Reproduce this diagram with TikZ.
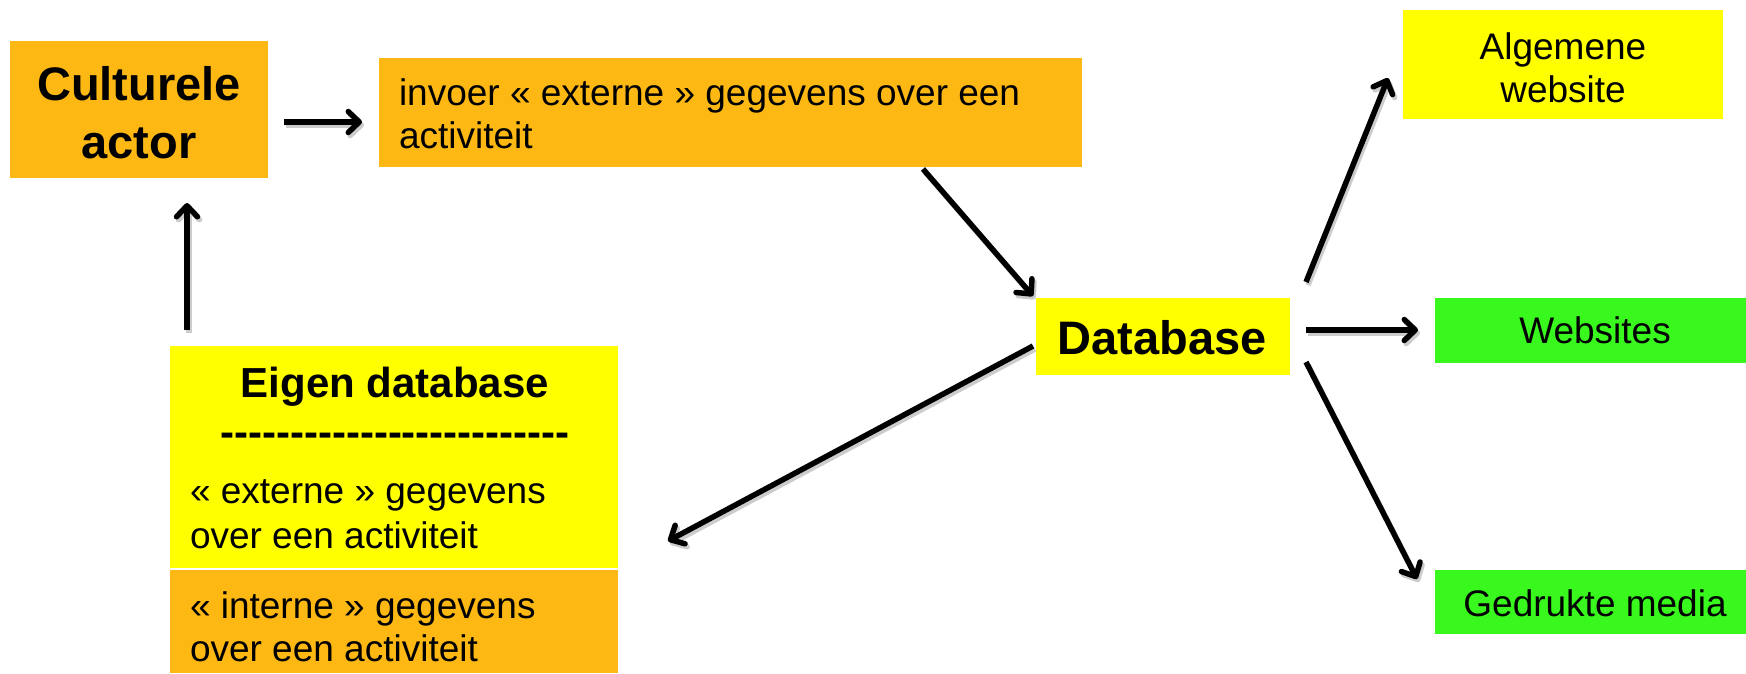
\documentclass[tikz,border=0pt]{standalone}
\usepackage{fontspec}
\setmainfont{Liberation Sans}
\usetikzlibrary{arrows.meta}
\definecolor{corange}{RGB}{253,184,19}
\definecolor{cyellow}{RGB}{255,255,0}
\definecolor{cgreen}{RGB}{57,248,29}
\newcommand\dsh{-\kern0pt}
\tikzset{
  boxshape/.style={rectangle, inner sep=0pt, outer sep=0pt, draw=none},
  txt/.style={inner sep=0pt, outer sep=0pt, font=\fontsize{37}{44}\selectfont},
  bigtxt/.style={inner sep=0pt, outer sep=0pt, font=\fontsize{47}{58}\selectfont\bfseries, align=center},
  arr/.style={line width=5.5pt, -{Straight Barb[length=11pt,width=21pt,round]},
    preaction={draw=black!20, line width=5.5pt, -{Straight Barb[length=11pt,width=21pt,round]}, transform canvas={shift={(2pt,-3pt)}}}}
}
\begin{document}
\begin{tikzpicture}[x=1pt,y=-1pt]
\useasboundingbox (0,0) rectangle (1746,673);
% boxes
\node[boxshape, fill=corange, minimum width=258pt, minimum height=137pt] (ca) at (139,109.5) {};
\node[boxshape, fill=corange, minimum width=703pt, minimum height=109pt] (inv) at (730.5,112.5) {};
\node[boxshape, fill=cyellow, minimum width=448pt, minimum height=222pt] (eig) at (394,457) {};
\node[boxshape, fill=corange, minimum width=448pt, minimum height=103pt] (int) at (394,621.5) {};
\node[boxshape, fill=cyellow, minimum width=254pt, minimum height=77pt] (db) at (1163,336.5) {};
\node[boxshape, fill=cyellow, minimum width=320pt, minimum height=109pt] (alg) at (1563,64.5) {};
\node[boxshape, fill=cgreen, minimum width=311pt, minimum height=65pt] (web) at (1590.5,330.5) {};
\node[boxshape, fill=cgreen, minimum width=311pt, minimum height=64pt] (ged) at (1590.5,602) {};
% texts
\node[bigtxt, anchor=base] (catxt1) at (139,100) {Culturele};
\node[bigtxt, anchor=base] (catxt2) at (139,158) {actor};
\node[txt, anchor=base west] (invtxt1) at (399,105) {invoer « externe » gegevens over een};
\node[txt, anchor=base west] (invtxt2) at (399,148) {activiteit};
\node[inner sep=0pt, font=\fontsize{42}{50}\selectfont\bfseries, anchor=base] (eigtitle) at (395,397) {Eigen database};
\node[inner sep=0pt, font=\fontsize{42}{50}\selectfont\bfseries, anchor=base] (eigdash) at (395,446) {\dsh\dsh\dsh\dsh\dsh\dsh\dsh\dsh\dsh\dsh\dsh\dsh\dsh\dsh\dsh\dsh\dsh\dsh\dsh\dsh\dsh\dsh\dsh\dsh-};
\node[txt, anchor=base west] (eigtxt1) at (190,503) {« externe » gegevens};
\node[txt, anchor=base west] (eigtxt2) at (190,548) {over een activiteit};
\node[txt, anchor=base west] (inttxt1) at (190,618) {« interne » gegevens};
\node[txt, anchor=base west] (inttxt2) at (190,661) {over een activiteit};
\node[bigtxt, anchor=base] (dbtxt) at (1162,354) {Database};
\node[txt, anchor=base] (algtxt1) at (1563,59) {Algemene};
\node[txt, anchor=base] (algtxt2) at (1563,102) {website};
\node[txt, anchor=base] (webtxt) at (1595,343) {Websites};
\node[txt, anchor=base] (gedtxt) at (1595,616) {Gedrukte media};
% connector end points
\coordinate (a1s) at (284,122); \coordinate (a1e) at (362,122);
\coordinate (a2s) at (187,330); \coordinate (a2e) at (187,203);
\coordinate (a3s) at (923,169); \coordinate (a3e) at (1033,296);
\coordinate (a4s) at (1033,346); \coordinate (a4e) at (668,541);
\coordinate (a5s) at (1306,282); \coordinate (a5e) at (1388,78);
\coordinate (a6s) at (1306,330); \coordinate (a6e) at (1418,330);
\coordinate (a7s) at (1306,362); \coordinate (a7e) at (1417,579);
% connectors
\draw[arr] (a1s) -- (a1e);
\draw[arr] (a2s) -- (a2e);
\draw[arr] (a3s) -- (a3e);
\draw[arr] (a4s) -- (a4e);
\draw[arr] (a5s) -- (a5e);
\draw[arr] (a6s) -- (a6e);
\draw[arr] (a7s) -- (a7e);
\end{tikzpicture}
\end{document}
